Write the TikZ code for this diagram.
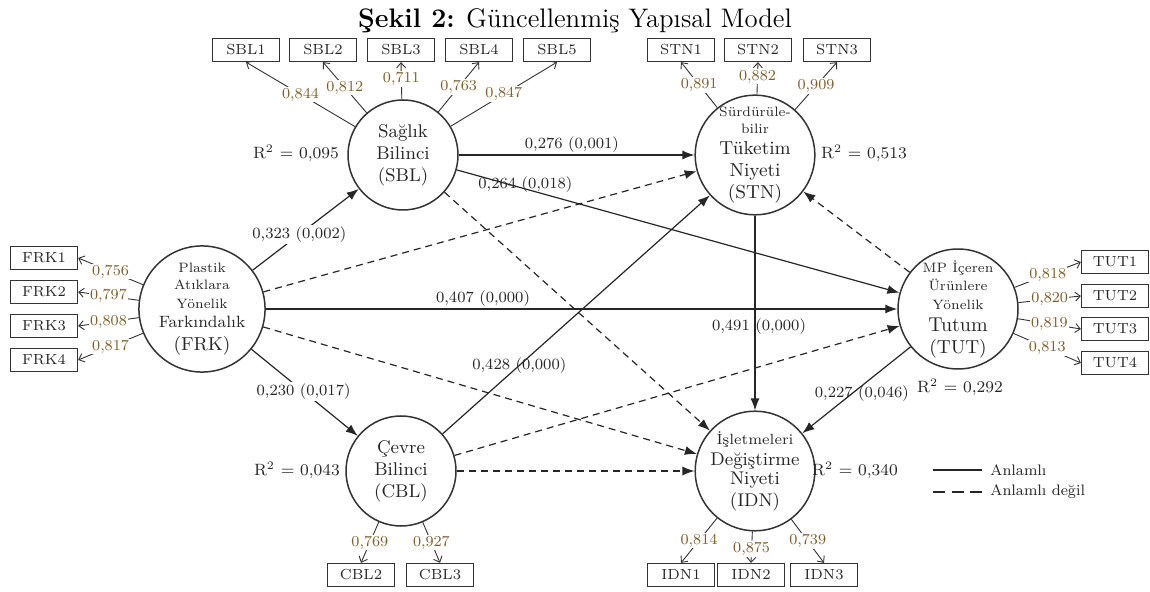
\documentclass[tikz,border=0pt]{standalone}
\usepackage{tikz}
\usetikzlibrary{arrows.meta}
\definecolor{yukrenk}{RGB}{125,95,45}
\newcommand\ufak{\fontsize{6.8}{7.6}\selectfont}
\newcommand\orta{\fontsize{8.2}{9}\selectfont}
\newcommand\iri{\fontsize{9.4}{10.5}\selectfont}

\begin{document}
\begin{tikzpicture}[x=0.5pt,y=-0.5pt,
  gizil/.style={draw=black!80, circle, line width=0.75pt, minimum size=55pt, inner sep=0pt, align=center, text=black!85, font=\fontsize{9.2}{11}\selectfont},
  gosterge/.style={draw=black!80, line width=0.65pt, minimum width=33.5pt, minimum height=11.5pt, inner sep=0pt, text=black!85, font=\fontsize{7.3}{8}\selectfont},
  yol/.style={draw=black!85, line width=0.6pt, -{Latex[length=6pt,width=4.5pt]}},
  anlamli/.style={yol},
  anlamsiz/.style={yol, dash pattern=on 3.5pt off 2.5pt},
  yuk/.style={draw=black!80, line width=0.45pt, -{Straight Barb[length=2.5pt,width=4.5pt]}},
  yukyazi/.style={font=\fontsize{7.6}{8}\selectfont, text=yukrenk, fill=white, inner sep=0.6pt},
  katsayi/.style={font=\fontsize{7.8}{9}\selectfont, text=black!85, inner sep=1pt},
  rkare/.style={font=\fontsize{8.2}{10}\selectfont, text=black!85},
  lejant/.style={font=\fontsize{7.6}{9}\selectfont, text=black!85, anchor=west, inner sep=0pt}]
\useasboundingbox (0,0) rectangle (1150,592);

\node[font=\fontsize{13.4}{16}\selectfont] (baslik) at (575,21) {\textbf{Şekil 2:} Güncellenmiş Yapısal Model};

\node[gizil] (sbl) at (403,155) {Sağlık\\ Bilinci\\ (SBL)};
\node[gizil] (stn) at (755,155) {\ufak Sürdürüle-\\[-2.5pt] \ufak bilir\\[-0.5pt] \iri Tüketim\\ \iri Niyeti\\ \iri (STN)};
\node[gizil] (frk) at (202,309) {\ufak Plastik\\[-2.5pt] \ufak Atıklara\\[-1.5pt] \ufak Yönelik\\[-1.5pt] \orta Farkındalık\\[0.5pt] \iri (FRK)};
\node[gizil] (tut) at (958,309) {\ufak MP İçeren\\[-2pt] \ufak Ürünlere\\[-1.5pt] \ufak Yönelik\\ \fontsize{10}{11}\selectfont Tutum\\ \iri (TUT)};
\node[gizil] (cbl) at (401,471) {Çevre\\ Bilinci\\ (CBL)};
\node[gizil] (idn) at (755,471) {\fontsize{7.4}{8}\selectfont İşletmeleri\\[-0.5pt] Değiştirme\\[-1.5pt] Niyeti\\ (IDN)};

\node[gosterge] (sbl1) at (246,50) {SBL1};
\node[gosterge] (sbl2) at (323,50) {SBL2};
\node[gosterge] (sbl3) at (401,50) {SBL3};
\node[gosterge] (sbl4) at (479,50) {SBL4};
\node[gosterge] (sbl5) at (557,50) {SBL5};
\node[gosterge] (stn1) at (681,50) {STN1};
\node[gosterge] (stn2) at (758,50) {STN2};
\node[gosterge] (stn3) at (837,50) {STN3};
\node[gosterge] (frk1) at (44,258) {FRK1};
\node[gosterge] (frk2) at (44,292) {FRK2};
\node[gosterge] (frk3) at (44,326) {FRK3};
\node[gosterge] (frk4) at (44,360) {FRK4};
\node[gosterge] (tut1) at (1115,262) {TUT1};
\node[gosterge] (tut2) at (1115,296) {TUT2};
\node[gosterge] (tut3) at (1115,329) {TUT3};
\node[gosterge] (tut4) at (1115,363) {TUT4};
\node[gosterge] (cbl2) at (361,575) {CBL2};
\node[gosterge] (cbl3) at (440,575) {CBL3};
\node[gosterge] (idn1) at (681,575) {IDN1};
\node[gosterge] (idn2) at (751,575) {IDN2};
\node[gosterge] (idn3) at (824,575) {IDN3};

\path[yuk] (sbl) -- node[yukyazi] {0,844} (sbl1.south);
\path[yuk] (sbl) -- node[yukyazi] {0,812} (sbl2.south);
\path[yuk] (sbl) -- node[yukyazi,pos=0.55] {0,711} (sbl3.south);
\path[yuk] (sbl) -- node[yukyazi] {0,763} (sbl4.south);
\path[yuk] (sbl) -- node[yukyazi] {0,847} (sbl5.south);
\path[yuk] (stn) -- node[yukyazi] {0,891} (stn1.south);
\path[yuk] (stn) -- node[yukyazi,pos=0.55] {0,882} (stn2.south);
\path[yuk] (stn) -- node[yukyazi] {0,909} (stn3.south);
\path[yuk] (frk) -- node[yukyazi] {0,756} (frk1.east);
\path[yuk] (frk) -- node[yukyazi] {0,797} (frk2.east);
\path[yuk] (frk) -- node[yukyazi] {0,808} (frk3.east);
\path[yuk] (frk) -- node[yukyazi] {0,817} (frk4.east);
\path[yuk] (tut) -- node[yukyazi] {0,818} (tut1.west);
\path[yuk] (tut) -- node[yukyazi] {0,820} (tut2.west);
\path[yuk] (tut) -- node[yukyazi] {0,819} (tut3.west);
\path[yuk] (tut) -- node[yukyazi] {0,813} (tut4.west);
\path[yuk] (cbl) -- node[yukyazi] {0,769} (cbl2.north);
\path[yuk] (cbl) -- node[yukyazi] {0,927} (cbl3.north);
\path[yuk] (idn) -- node[yukyazi] {0,814} (idn1.north);
\path[yuk] (idn) -- node[yukyazi,pos=0.55] {0,875} (idn2.north);
\path[yuk] (idn) -- node[yukyazi] {0,739} (idn3.north);

\path[anlamsiz] (frk) -- (stn);
\path[anlamsiz] (sbl) -- (idn);
\path[anlamsiz] (frk) -- (idn);
\path[anlamsiz] (cbl) -- (tut);
\path[anlamsiz] (cbl) -- (idn);
\path[anlamsiz] (tut) -- (stn);

\path[anlamli] (frk) -- node[katsayi,fill=white,pos=0.44] {0,323 (0,002)} (sbl);
\path[anlamli] (sbl) -- node[katsayi,above,pos=0.48] {0,276 (0,001)} (stn);
\path[anlamli] (sbl) -- node[katsayi,pos=0.155,yshift=2pt] {0,264 (0,018)} (tut);
\path[anlamli] (frk) -- node[katsayi,above,pos=0.344] {0,407 (0,000)} (tut);
\path[anlamli] (frk) -- node[katsayi,fill=white,pos=0.49] {0,230 (0,017)} (cbl);
\path[anlamli] (cbl) -- node[katsayi,pos=0.287] {0,428 (0,000)} (stn);
\path[anlamli] (stn) -- node[katsayi,pos=0.57,xshift=2pt] {0,491 (0,000)} (idn);
\path[anlamli] (tut) -- node[katsayi,pos=0.45,yshift=-4pt] {0,227 (0,046)} (idn);

\node[rkare] (r1) at (296,153) {R\textsuperscript{2} = 0,095};
\node[rkare] (r2) at (864,153) {R\textsuperscript{2} = 0,513};
\node[rkare] (r3) at (960,387) {R\textsuperscript{2} = 0,292};
\node[rkare] (r4) at (297,470) {R\textsuperscript{2} = 0,043};
\node[rkare] (r5) at (855,470) {R\textsuperscript{2} = 0,340};

\coordinate (l1a) at (933,470);
\coordinate (l1b) at (982,470);
\coordinate (l2a) at (933,492);
\coordinate (l2b) at (982,492);
\path[draw=black!85,line width=0.6pt] (l1a) -- (l1b);
\path[draw=black!85,line width=0.6pt,dash pattern=on 6pt off 3.3pt] (l2a) -- (l2b);
\node[lejant] (l1) at (990,470) {Anlamlı};
\node[lejant] (l2) at (990,492) {Anlamlı değil};
\end{tikzpicture}
\end{document}
